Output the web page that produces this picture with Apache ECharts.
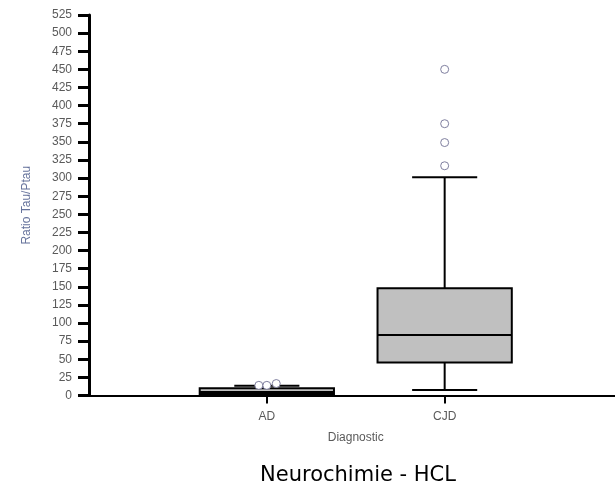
<!DOCTYPE html>
<html>
<head>
<meta charset="utf-8">
<script src="https://cdn.jsdelivr.net/npm/echarts@6/dist/echarts.min.js"></script>
<style>html,body{margin:0;padding:0;background:#fff;}#c{width:615px;height:494px;}</style>
</head>
<body>
<div id="c"></div>
<script>
// ---- data ----
var categories = ['AD', 'CJD'];
// [lower whisker, Q1, median, Q3, upper whisker]
var boxStats = [
  [0, 2, 5, 10, 13.5],
  [7.5, 45.5, 83.5, 148, 301]
];
var adOutliers = [14, 14, 16.5];
var cjdOutliers = [317, 349, 375, 450];
var yTicks = { min: 0, max: 525, step: 25 };

// ---- build ----
var catPos = categories.map(function (c, i) { return i + 1; });
var jitter = [-0.045, 0, 0.053];
var outlierPoints = [];
adOutliers.forEach(function (v, i) { outlierPoints.push([catPos[0] + jitter[i], v]); });
cjdOutliers.forEach(function (v) { outlierPoints.push([catPos[1], v]); });
var boxData = boxStats.map(function (s, i) { return [catPos[i]].concat(s); });

var chart = echarts.init(document.getElementById('c'));
var FONT = 'Liberation Sans';
chart.setOption({
  animation: false,
  backgroundColor: '#fff',
  title: {
    text: 'Neurochimie - HCL',
    left: 358,
    textAlign: 'center',
    top: 465,
    padding: 0,
    textStyle: { fontFamily: 'DejaVu Sans', fontSize: 21, fontWeight: 'normal', color: '#000' }
  },
  grid: { left: 89, right: -7.5, top: 15, bottom: 98.5, containLabel: false, outerBoundsMode: 'none' },
  xAxis: {
    type: 'value',
    min: 0,
    max: 3,
    name: 'Diagnostic',
    nameLocation: 'middle',
    nameGap: 36,
    nameTextStyle: { fontFamily: FONT, fontSize: 12, color: '#5a5a5a' },
    splitLine: { show: false },
    axisLine: { lineStyle: { color: '#000', width: 2 } },
    axisTick: { show: true, length: 8, lineStyle: { color: '#000', width: 2 }, customValues: catPos },
    axisLabel: {
      fontFamily: FONT, fontSize: 12, color: '#5a5a5a', margin: 15,
      customValues: catPos,
      formatter: function (v) { return categories[Math.round(v) - 1] || ''; }
    }
  },
  yAxis: {
    type: 'value',
    min: yTicks.min,
    max: yTicks.max,
    interval: yTicks.step,
    name: 'Ratio Tau/Ptau',
    nameLocation: 'middle',
    nameGap: 56,
    nameTextStyle: { fontFamily: FONT, fontSize: 12, color: '#66739c' },
    splitLine: { show: false },
    axisLine: { show: true, lineStyle: { color: '#000', width: 3 } },
    axisTick: { show: true, length: 11, lineStyle: { color: '#000', width: 3 } },
    axisLabel: { fontFamily: FONT, fontSize: 12, color: '#5a5a5a', margin: 17 }
  },
  series: [
    {
      type: 'custom',
      data: boxData,
      encode: { x: 0, y: [1, 2, 3, 4, 5] },
      renderItem: function (params, api) {
        var x = api.value(0);
        var lo = api.coord([x, api.value(1)]);
        var q1 = api.coord([x, api.value(2)]);
        var med = api.coord([x, api.value(3)]);
        var q3 = api.coord([x, api.value(4)]);
        var hi = api.coord([x, api.value(5)]);
        var bw = api.size([0.755, 0])[0];
        var cw = api.size([0.366, 0])[0];
        var cx = lo[0];
        var ls = { stroke: '#000', lineWidth: 2 };
        return {
          type: 'group',
          children: [
            { type: 'line', shape: { x1: cx, y1: hi[1], x2: cx, y2: q3[1] }, style: ls },
            { type: 'line', shape: { x1: cx, y1: q1[1], x2: cx, y2: lo[1] }, style: ls },
            { type: 'line', shape: { x1: cx - cw / 2, y1: hi[1], x2: cx + cw / 2, y2: hi[1] }, style: ls },
            { type: 'line', shape: { x1: cx - cw / 2, y1: lo[1], x2: cx + cw / 2, y2: lo[1] }, style: ls },
            { type: 'rect', shape: { x: cx - bw / 2, y: q3[1], width: bw, height: q1[1] - q3[1] },
              style: { fill: '#c0c0c0', stroke: '#000', lineWidth: 2 } },
            { type: 'line', shape: { x1: cx - bw / 2, y1: med[1], x2: cx + bw / 2, y2: med[1] }, style: ls }
          ]
        };
      },
      z: 2
    },
    {
      type: 'scatter',
      data: outlierPoints,
      symbol: 'circle',
      symbolSize: 8,
      itemStyle: { color: '#fff', borderColor: '#7f7f9f', borderWidth: 1, opacity: 1 },
      z: 3
    }
  ]
});
</script>
</body>
</html>
